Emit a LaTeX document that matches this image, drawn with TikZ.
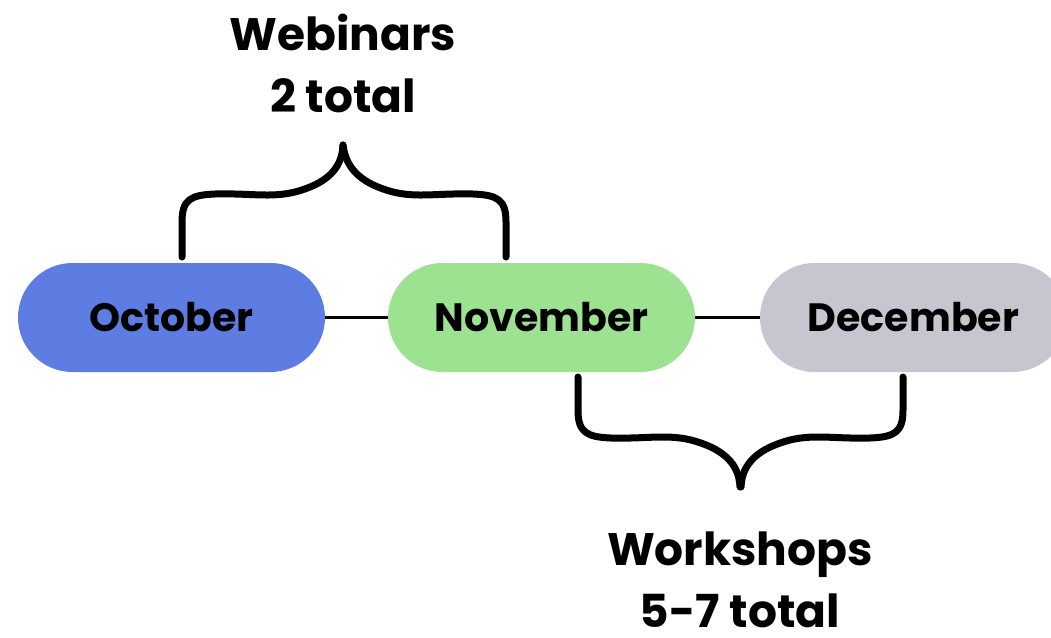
\documentclass[tikz,border=0pt]{standalone}
\usepackage{fontspec}
\setmainfont{Poppins}[BoldFont={* Bold}]
\definecolor{octc}{HTML}{5E7DE3}
\definecolor{novc}{HTML}{9DE291}
\definecolor{decc}{HTML}{C6C5D0}
\tikzset{
  pill/.style={rounded corners=54.5pt, minimum width=307pt, minimum height=109pt, inner sep=0pt, font=\fontsize{39.5}{42}\selectfont\bfseries},
  link/.style={line width=3pt},
  brace/.style={line width=7pt, line cap=round, line join=round},
  label/.style={align=center, font=\fontsize{45.5}{62}\selectfont\bfseries}
}
\begin{document}
\begin{tikzpicture}[x=1pt,y=-1pt]
\useasboundingbox (0,0) rectangle (1051,637);
\node[pill, fill=octc] (oct) at (171.5,317.5) {October};
\node[pill, fill=novc] (nov) at (541.5,317.5) {November};
\node[pill, fill=decc] (dec) at (913.5,317.5) {December};
\draw[link] (oct.east) -- (nov.west);
\draw[link] (nov.east) -- (dec.west);
% top brace
\draw[brace] (182,257) -- (182,222) .. controls (182,200) and (190,195) .. (215,194) .. controls (250,193) and (270,198) .. (295,192) .. controls (325,184) and (342,170) .. (343,145);
\draw[brace] (506,257) -- (506,222) .. controls (506,200) and (498,195) .. (473,194) .. controls (438,193) and (418,198) .. (393,192) .. controls (363,184) and (346,170) .. (343,145);
% bottom brace
\draw[brace] (578,377) -- (578,410) .. controls (578,432) and (586,437) .. (611,438) .. controls (646,439) and (666,434) .. (691,440) .. controls (721,448) and (739,462) .. (740,487);
\draw[brace] (903,377) -- (903,410) .. controls (903,432) and (895,437) .. (870,438) .. controls (835,439) and (815,434) .. (790,440) .. controls (760,448) and (742,462) .. (741,487);
\node[label] (web) at (343,63) {Webinars\\2 total};
\node[label] (work) at (740,580) {Workshops\\5-7 total};
\end{tikzpicture}
\end{document}
